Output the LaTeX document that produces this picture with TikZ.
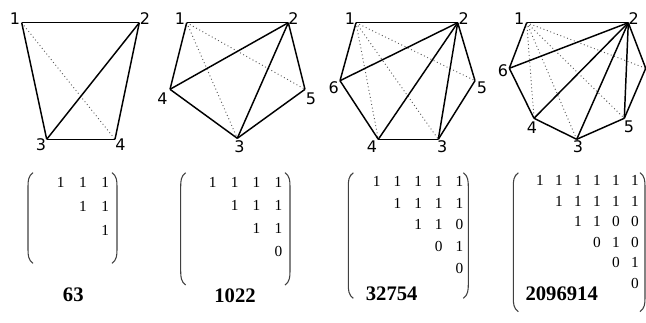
\documentclass[tikz,border=0pt]{standalone}
\usepackage{fontspec}
\setmainfont{Liberation Serif}
\newfontfamily\policesommet{DejaVu Sans}
\usetikzlibrary{calc}

%parenthèses de matrice : x, haut, bas
\newcommand{\parG}[3]{\draw[parenthese] ({#1+5},#2) to[out=215,in=90] (#1,{#2+14}) -- (#1,{#3-14}) to[out=-90,in=145] ({#1+5},#3);}
\newcommand{\parD}[3]{\draw[parenthese] ({#1-5},#2) to[out=-35,in=90] (#1,{#2+14}) -- (#1,{#3-14}) to[out=-90,in=35] ({#1-5},#3);}

\begin{document}
\begin{tikzpicture}[x=0.75pt,y=-0.75pt]
\tikzset{arete/.style={black,line width=1.1pt},
pointille/.style={black!65,dotted,line width=0.7pt},
sommet/.style={font=\policesommet\fontsize{12}{14}\selectfont,inner sep=0pt},
entree/.style={font=\fontsize{11.5}{13}\selectfont,inner sep=0pt},
total/.style={font=\bfseries\fontsize{15.5}{18}\selectfont,inner sep=0pt},
parenthese/.style={black!75,line width=0.8pt}} %styles des arêtes et des textes

\useasboundingbox (0,0) rectangle (646,322);

%graphe à 4 sommets
\coordinate (a1) at (21.7,22.7);
\coordinate (a2) at (139.3,22.7);
\coordinate (a3) at (46.7,139.3);
\coordinate (a4) at (115,139.3);
\node[sommet] (la1) at (15,19) {1};
\node[sommet] (la2) at (145,19) {2};
\node[sommet] (la3) at (41,145) {3};
\node[sommet] (la4) at (120.5,145) {4};
\draw[pointille] (a1) -- (a4);
\foreach \u/\v in {a1/a2,a1/a3,a2/a4,a3/a4,a2/a3}
  \draw[arete] (\u) -- (\v);

%graphe à 5 sommets
\coordinate (b1) at (186.7,22.7);
\coordinate (b2) at (288.3,22.7);
\coordinate (b3) at (237.3,138.3);
\coordinate (b4) at (170,89.3);
\coordinate (b5) at (305,89.3);
\node[sommet] (lb1) at (180,19) {1};
\node[sommet] (lb2) at (293.5,19) {2};
\node[sommet] (lb3) at (239.5,147) {3};
\node[sommet] (lb4) at (162.5,98.5) {4};
\node[sommet] (lb5) at (311,98.5) {5};
\foreach \v in {b3,b5}
  \draw[pointille] (b1) -- (\v);
\foreach \u/\v in {b1/b2,b1/b4,b2/b5,b4/b3,b5/b3,b2/b4,b2/b3}
  \draw[arete] (\u) -- (\v);

%graphe à 6 sommets
\coordinate (c1) at (356,22.7);
\coordinate (c2) at (457.7,22.7);
\coordinate (c3) at (438.3,139.3);
\coordinate (c4) at (378.3,139.3);
\coordinate (c5) at (475,80.7);
\coordinate (c6) at (340,80.7);
\node[sommet] (lc1) at (350,19) {1};
\node[sommet] (lc2) at (463.7,19) {2};
\node[sommet] (lc3) at (442.3,146.7) {3};
\node[sommet] (lc4) at (372,146.7) {4};
\node[sommet] (lc5) at (482,88) {5};
\node[sommet] (lc6) at (333.7,88) {6};
\foreach \v in {c3,c4,c5}
  \draw[pointille] (c1) -- (\v);
\foreach \u/\v in {c1/c2,c2/c5,c5/c3,c3/c4,c4/c6,c6/c1,c2/c6,c2/c4,c2/c3}
  \draw[arete] (\u) -- (\v);

%graphe à 7 sommets
\coordinate (d1) at (526.7,22.7);
\coordinate (d2) at (628.3,22.7);
\coordinate (d3) at (576.7,139.3);
\coordinate (d4) at (534,118.3);
\coordinate (d5) at (624.3,118.3);
\coordinate (d6) at (509.3,68.3);
\coordinate (d7) at (645.7,68.3);
\node[sommet] (ld1) at (519.3,19) {1};
\node[sommet] (ld2) at (633.7,19) {2};
\node[sommet] (ld3) at (578,146.5) {3};
\node[sommet] (ld4) at (532,128) {4};
\node[sommet] (ld5) at (629,126.7) {5};
\node[sommet] (ld6) at (503,70.5) {6};
\foreach \v in {d3,d4,d5,d7}
  \draw[pointille] (d1) -- (\v);
\foreach \u/\v in {d1/d2,d2/d7,d7/d5,d5/d3,d3/d4,d4/d6,d6/d1,d2/d6,d2/d4,d2/d3,d2/d5}
  \draw[arete] (\u) -- (\v);

%matrices : ligne/colonne/valeur
\foreach \r/\c/\t in {1/1/1,1/2/1,1/3/1,2/2/1,2/3/1,3/3/1}
  \node[entree] (ma-\r-\c) at ({60.7+22.2*(\c-1)},{182.7+24*(\r-1)}) {\t};
\parG{28}{172.7}{263.3}
\parD{117}{172.7}{263.3}
\node[total] (ta) at (73.3,295) {63};

\foreach \r/\c/\t in {1/1/1,1/2/1,1/3/1,1/4/1,2/2/1,2/3/1,2/4/1,3/3/1,3/4/1,4/4/0}
  \node[entree] (mb-\r-\c) at ({212.7+21.9*(\c-1)},{182.7+23*(\r-1)}) {\t};
\parG{180.7}{172.7}{285}
\parD{290}{172.7}{285}
\node[total] (tb) at (235,296) {1022};

\foreach \r/\c/\t in {1/1/1,1/2/1,1/3/1,1/4/1,1/5/1,2/2/1,2/3/1,2/4/1,2/5/1,
  3/3/1,3/4/1,3/5/0,4/4/0,4/5/1,5/5/0}
  \node[entree] (mc-\r-\c) at ({376.7+20.7*(\c-1)},{181.7+21.6*(\r-1)}) {\t};
\parG{348.3}{172.7}{298.3}
\parD{468.3}{172.7}{298.3}
\node[total] (tc) at (391.7,293.3) {32754};

\foreach \r/\c/\t in {1/1/1,1/2/1,1/3/1,1/4/1,1/5/1,1/6/1,2/2/1,2/3/1,2/4/1,2/5/1,2/6/1,
  3/3/1,3/4/1,3/5/0,3/6/0,4/4/0,4/5/1,4/6/0,5/5/0,5/6/1,6/6/0}
  \node[entree] (md-\r-\c) at ({540+19*(\c-1)},{180.7+20.5*(\r-1)}) {\t};
\parG{513.3}{172.7}{311.7}
\parD{645}{172.7}{311.7}
\node[total] (td) at (561.7,294) {2096914};
\end{tikzpicture}
\end{document}
